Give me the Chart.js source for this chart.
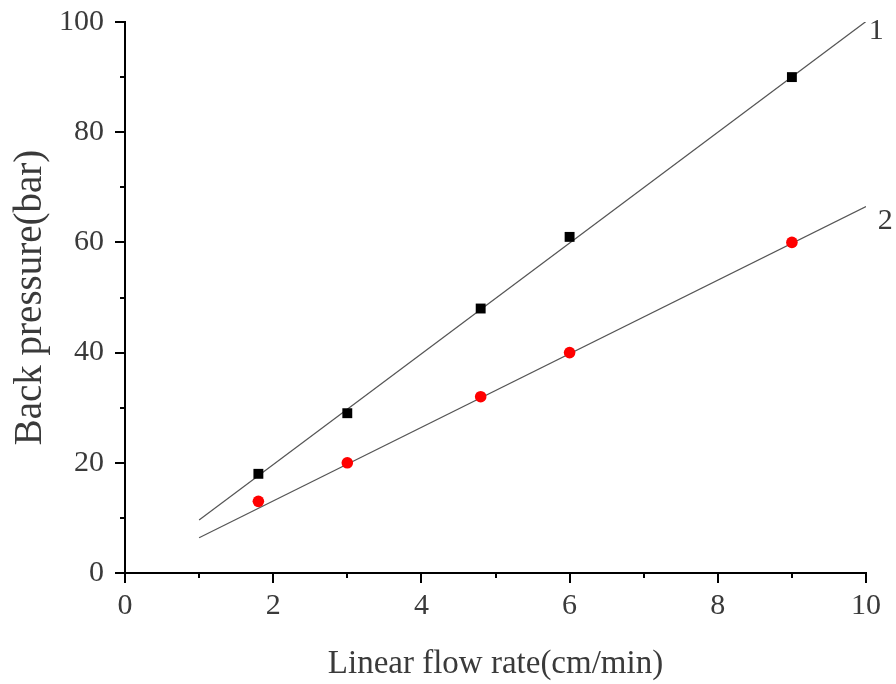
<!DOCTYPE html>
<html>
<head>
<meta charset="utf-8">
<script src="https://cdn.jsdelivr.net/npm/chart.js@4.4.0/dist/chart.umd.min.js"></script>
<style>
html,body{margin:0;padding:0;background:#fff;}
#wrap{width:896px;height:684px;position:relative;}
</style>
</head>
<body>
<div id="wrap"><canvas id="c" width="896" height="684"></canvas></div>
<script>
// Measured data (linear flow rate, cm/min -> back pressure, bar)
const flowRate = [1.8, 3, 4.8, 6, 9];
const pressure1 = [18, 29, 48, 61, 90];
const pressure2 = [13, 20, 32, 40, 60];
// Fitted lines end points
const fitX = [1, 10];
const fit1 = [9.6, 100.1];
const fit2 = [6.4, 66.5];
// Curve labels
const curveLabels = ['1', '2'];
const curveLabelX = [10.14, 10.26];
const curveLabelY = [98.3, 63.8];
const xTicks = [0, 2, 4, 6, 8, 10];
const yTicks = [0, 20, 40, 60, 80, 100];
const xMinor = [1, 3, 5, 7, 9];
const yMinor = [10, 30, 50, 70, 90];

const FONT = "'Liberation Serif', 'Times New Roman', serif";
const TEXT = '#3a3a3a';

const toPts = (xs, ys) => xs.map((x, i) => ({x: x, y: ys[i]}));

const extras = {
  id: 'extras',
  afterDraw(chart) {
    const ctx = chart.ctx;
    const xs = chart.scales.x, ys = chart.scales.y;
    ctx.save();
    ctx.strokeStyle = '#000';
    ctx.lineWidth = 2;
    const y0 = ys.getPixelForValue(0);
    const x0 = xs.getPixelForValue(0);
    xMinor.forEach(v => {
      const px = Math.round(xs.getPixelForValue(v));
      ctx.beginPath(); ctx.moveTo(px, y0); ctx.lineTo(px, y0 + 5); ctx.stroke();
    });
    yMinor.forEach(v => {
      const py = Math.round(ys.getPixelForValue(v));
      ctx.beginPath(); ctx.moveTo(x0, py); ctx.lineTo(x0 - 5, py); ctx.stroke();
    });
    ctx.fillStyle = TEXT;
    ctx.font = '30px ' + FONT;
    ctx.textAlign = 'center';
    ctx.textBaseline = 'middle';
    curveLabels.forEach((t, i) => {
      ctx.fillText(t, xs.getPixelForValue(curveLabelX[i]), ys.getPixelForValue(curveLabelY[i]));
    });
    ctx.restore();
  }
};

new Chart(document.getElementById('c'), {
  type: 'scatter',
  data: {
    datasets: [
      {label: 'fit1', data: toPts(fitX, fit1), showLine: true, borderColor: '#555', borderWidth: 1.2, pointRadius: 0, order: 3},
      {label: 'fit2', data: toPts(fitX, fit2), showLine: true, borderColor: '#555', borderWidth: 1.2, pointRadius: 0, order: 4},
      {label: '1', data: toPts(flowRate, pressure1), pointStyle: 'rect', pointRadius: 7, backgroundColor: '#000', borderColor: '#000', borderWidth: 0, order: 1},
      {label: '2', data: toPts(flowRate, pressure2), pointStyle: 'circle', pointRadius: 5.8, backgroundColor: '#ff0000', borderColor: '#ff0000', borderWidth: 0, order: 2}
    ]
  },
  options: {
    responsive: false,
    animation: false,
    devicePixelRatio: 1,
    layout: {padding: {top: 22, right: 30, left: 0, bottom: 0}},
    plugins: {legend: {display: false}, tooltip: {enabled: false}},
    scales: {
      x: {
        type: 'linear', min: 0, max: 10,
        afterBuildTicks: s => { s.ticks = xTicks.map(v => ({value: v})); },
        afterFit: s => { s.height = 111; s.paddingLeft = 0; s.paddingRight = 0; },
        grid: {drawOnChartArea: false, drawTicks: true, tickLength: 10, color: '#000', lineWidth: 2},
        border: {color: '#000', width: 2},
        ticks: {color: TEXT, font: {family: FONT, size: 30}, padding: 5, maxRotation: 0},
        title: {display: true, text: 'Linear flow rate(cm/min)', color: TEXT, font: {family: FONT, size: 33}, padding: {top: 6, bottom: 0}}
      },
      y: {
        type: 'linear', min: 0, max: 100,
        afterBuildTicks: s => { s.ticks = yTicks.map(v => ({value: v})); },
        afterFit: s => { s.width = 125; s.paddingTop = 0; s.paddingBottom = 0; },
        grid: {drawOnChartArea: false, drawTicks: true, tickLength: 10, color: '#000', lineWidth: 2},
        border: {color: '#000', width: 2},
        ticks: {color: TEXT, font: {family: FONT, size: 30}, padding: 11},
        title: {display: true, text: 'Back pressure(bar)', color: TEXT, font: {family: FONT, size: 39}, padding: {top: 7, bottom: 0}}
      }
    }
  },
  plugins: [extras]
});
</script>
</body>
</html>
